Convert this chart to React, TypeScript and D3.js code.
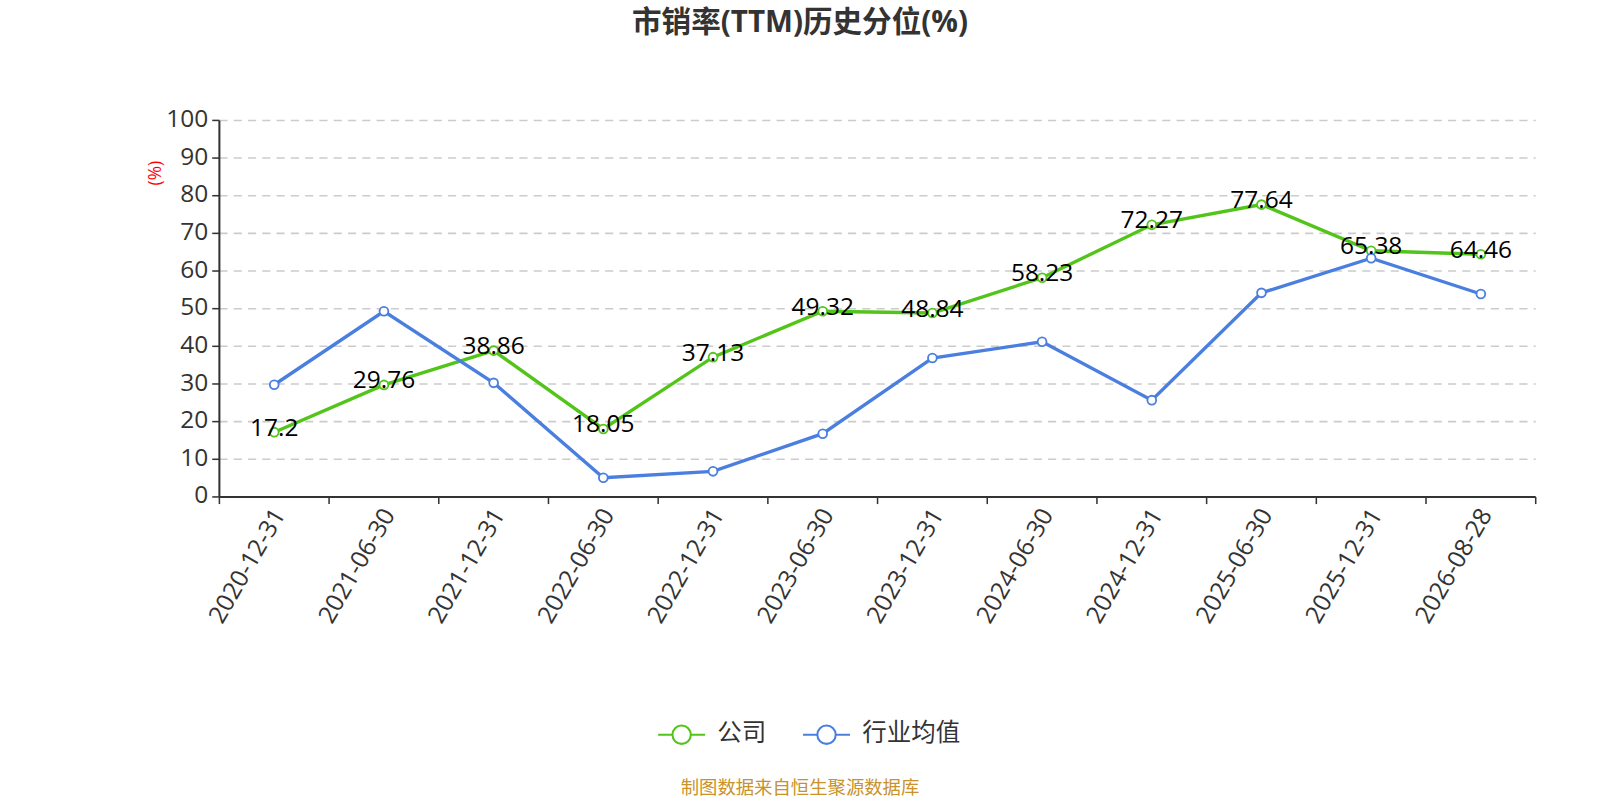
import * as React from "react";
import * as d3 from "d3";

const categories = [
  "2020-12-31",
  "2021-06-30",
  "2021-12-31",
  "2022-06-30",
  "2022-12-31",
  "2023-06-30",
  "2023-12-31",
  "2024-06-30",
  "2024-12-31",
  "2025-06-30",
  "2025-12-31",
  "2026-08-28",
];

const companyValues = [17.2, 29.76, 38.86, 18.05, 37.13, 49.32, 48.84, 58.23, 72.27, 77.64, 65.38, 64.46];
const industryValues = [29.8, 49.3, 30.3, 5.1, 6.8, 16.8, 36.9, 41.2, 25.7, 54.2, 63.4, 53.9];

const yTicks = [0, 10, 20, 30, 40, 50, 60, 70, 80, 90, 100];

const TITLE = "市销率(TTM)历史分位(%)";
const SOURCE = "制图数据来自恒生聚源数据库";

const GREEN = "#52c41a";
const BLUE = "#4a7fe0";
const FONT = "'Open Sans', 'Noto Sans CJK SC', sans-serif";

// the layout below was measured on a 1568-wide view, so scale it up to 1600
const K = 1600 / 1568;

export default function App() {
  const width = 1600;
  const height = 800;
  const margin = { top: 118, right: 63, bottom: 297, left: 215 };
  const iw = 1568 - margin.left - margin.right;
  const ih = 784 - margin.top - margin.bottom;

  const x = d3.scaleBand<string>().domain(categories).range([0, iw]);
  const y = d3.scaleLinear().domain([0, 100]).range([ih, 0]);
  const cx = (c: string) => (x(c) ?? 0) + x.bandwidth() / 2;

  const line = d3
    .line<number>()
    .x((_, i) => cx(categories[i]))
    .y((d) => y(d));

  const series = [
    { name: "公司", values: companyValues, color: GREEN, labels: true },
    { name: "行业均值", values: industryValues, color: BLUE, labels: false },
  ];

  const boundaries = [...categories.map((c) => x(c) ?? 0), iw];

  return (
    <svg
      width={width}
      height={height}
      style={{ position: "absolute", left: 0, top: 0, fontFamily: FONT }}
    >
      <g transform={`scale(${K})`}>
        <text x={784} y={24} textAnchor="middle" dominantBaseline="middle" fontSize={29} fontWeight="bold" fill="#333">
          {TITLE}
        </text>

        <g transform={`translate(${margin.left},${margin.top})`}>
          {yTicks.map((t) => (
            <g key={t} transform={`translate(0,${y(t)})`}>
              {t > 0 && <line x1={0} x2={iw} stroke="#ccc" strokeDasharray="8 6" strokeWidth={1.5} />}
              <line x1={-7} x2={0} stroke="#333" strokeWidth={1.5} />
              <text x={-11} dominantBaseline="middle" textAnchor="end" fontSize={24} fill="#333">
                {t}
              </text>
            </g>
          ))}
          <text
            transform={`translate(-62,${y(86)}) rotate(-90)`}
            textAnchor="middle"
            dominantBaseline="middle"
            fontSize={17}
            fill="red"
          >
            (%)
          </text>

          <line x1={0} y1={0} x2={0} y2={ih} stroke="#333" strokeWidth={2} />
          <line x1={0} y1={ih} x2={iw} y2={ih} stroke="#333" strokeWidth={2} />
          {boundaries.map((b, i) => (
            <line key={i} x1={b} x2={b} y1={ih} y2={ih + 7} stroke="#333" strokeWidth={1.5} />
          ))}
          {categories.map((c) => (
            <text
              key={c}
              transform={`translate(${cx(c) + 6},${ih + 14}) rotate(-60)`}
              textAnchor="end"
              dominantBaseline="middle"
              fontSize={24}
              fill="#333"
            >
              {c}
            </text>
          ))}

          {series.map((s) => (
            <g key={s.name}>
              <path d={line(s.values) ?? undefined} fill="none" stroke={s.color} strokeWidth={3.3} />
              {s.values.map((v, i) => (
                <circle key={i} cx={cx(categories[i])} cy={y(v)} r={4.3} fill="#fff" stroke={s.color} strokeWidth={1.8} />
              ))}
            </g>
          ))}
          {series
            .filter((s) => s.labels)
            .map((s) =>
              s.values.map((v, i) => (
                <text
                  key={`${s.name}-${i}`}
                  x={cx(categories[i])}
                  y={y(v) - 3}
                  textAnchor="middle"
                  dominantBaseline="middle"
                  fontSize={24}
                  fill="#000"
                >
                  {v}
                </text>
              ))
            )}
        </g>

        <g transform="translate(645,720)">
          {series.map((s, i) => {
            const ox = i === 0 ? 0 : 142;
            return (
              <g key={s.name} transform={`translate(${ox},0)`}>
                <line x1={0} x2={46} stroke={s.color} strokeWidth={2} />
                <circle cx={23} cy={0} r={9} fill="#fff" stroke={s.color} strokeWidth={2} />
                <text x={58} dominantBaseline="middle" fontSize={24} fill="#333">
                  {s.name}
                </text>
              </g>
            );
          })}
        </g>

        <text x={784} y={773} textAnchor="middle" dominantBaseline="middle" fontSize={18} fill="#c9922a">
          {SOURCE}
        </text>
      </g>
    </svg>
  );
}
